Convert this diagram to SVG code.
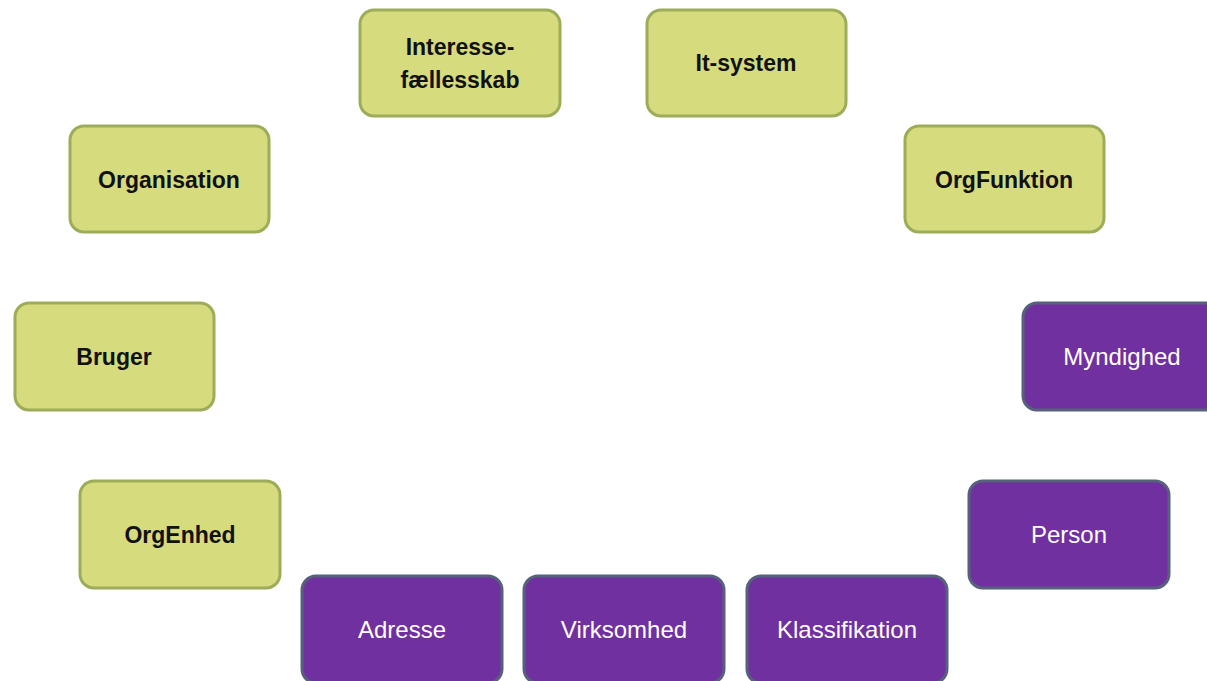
<svg xmlns="http://www.w3.org/2000/svg" width="1207" height="681" viewBox="0 0 1207 681">
<style>
.g rect{fill:#d6dc7e;stroke:#9cac58;stroke-width:3}
.p rect{fill:#7030a0;stroke:#57607c;stroke-width:3}
.g text{font-family:"Liberation Sans",Arial,sans-serif;font-weight:bold;font-size:23px;fill:#111;text-anchor:middle}
.p text{font-family:"Liberation Sans",Arial,sans-serif;font-size:24px;fill:#fff;text-anchor:middle}
</style>
<rect width="1207" height="681" fill="#fff"/>
<g id="interesse" class="g"><rect x="360" y="10" width="200" height="106" rx="14"/><text x="460" y="55">Interesse-</text><text x="460" y="88">fællesskab</text></g>
<g id="itsystem" class="g"><rect x="647" y="10" width="199" height="106" rx="14"/><text x="746" y="71">It-system</text></g>
<g id="organisation" class="g"><rect x="70" y="126" width="199" height="106" rx="14"/><text x="169" y="188">Organisation</text></g>
<g id="orgfunktion" class="g"><rect x="905" y="126" width="199" height="106" rx="14"/><text x="1004" y="188">OrgFunktion</text></g>
<g id="bruger" class="g"><rect x="15" y="303" width="199" height="107" rx="14"/><text x="114" y="365">Bruger</text></g>
<g id="orgenhed" class="g"><rect x="80" y="481" width="200" height="107" rx="14"/><text x="180" y="543">OrgEnhed</text></g>
<g id="myndighed" class="p"><rect x="1023" y="303" width="200" height="107" rx="14"/><text x="1122" y="365">Myndighed</text></g>
<g id="person" class="p"><rect x="969" y="481" width="200" height="107" rx="14"/><text x="1069" y="543">Person</text></g>
<g id="adresse" class="p"><rect x="302" y="576" width="200" height="107" rx="14"/><text x="402" y="638">Adresse</text></g>
<g id="virksomhed" class="p"><rect x="524" y="576" width="200" height="107" rx="14"/><text x="624" y="638">Virksomhed</text></g>
<g id="klassifikation" class="p"><rect x="747" y="576" width="200" height="107" rx="14"/><text x="847" y="638">Klassifikation</text></g>
<g id="connectors"/>
</svg>
